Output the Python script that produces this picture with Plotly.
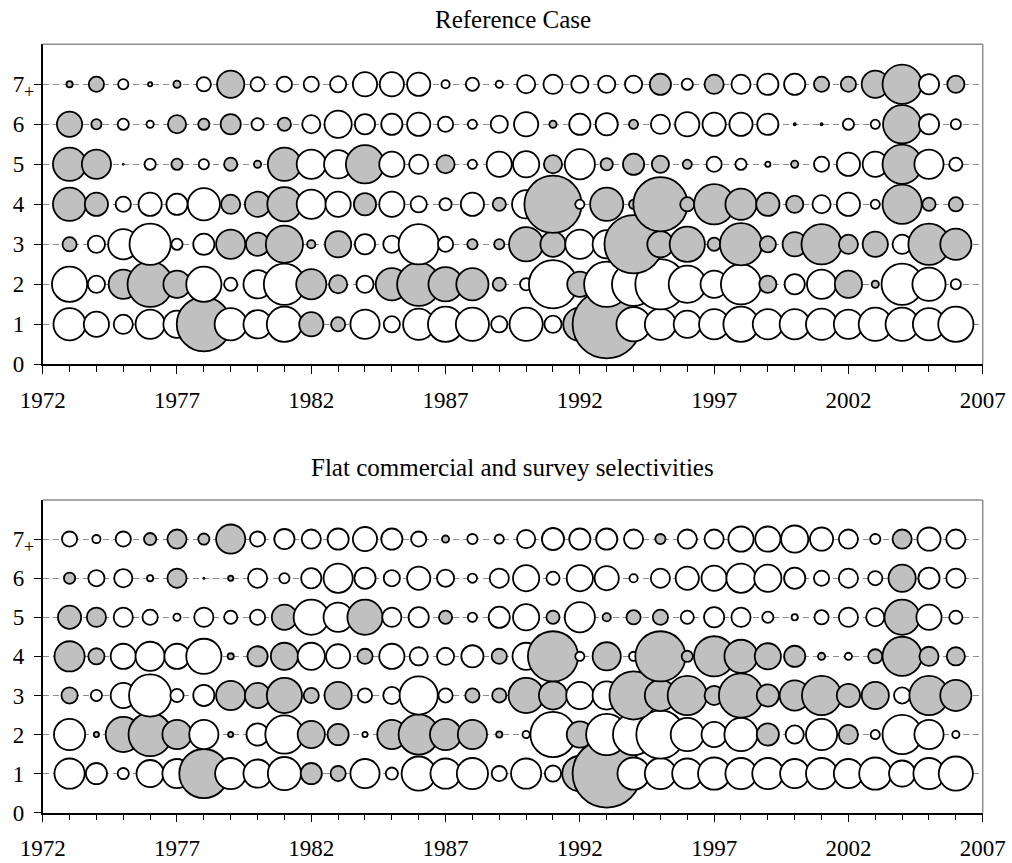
import plotly.graph_objects as go

# ---- data -------------------------------------------------------------
years = list(range(1973, 2007))
ages = [1, 2, 3, 4, 5, 6, 7]
x_tick_years = [1972, 1977, 1982, 1987, 1992, 1997, 2002, 2007]
y_tick_vals = [0, 1, 2, 3, 4, 5, 6, 7]
y_tick_text = ["0", "1", "2", "3", "4", "5", "6", "7"]
panel_titles = ["Reference Case", "Flat commercial and survey selectivities"]

# Residuals by age, 1973-2006 (positive = open bubble, negative = shaded)
ref_age1 = [3.4, 2.7, 2.1, 3.1, 2.9, -5.6, 3.4, 3.0, 3.7, -2.6,
            -1.6, 3.1, 1.8, 3.3, 3.7, 3.5, 1.8, 3.5, 1.9, -3.5,
            -7.0, 3.6, 3.3, 2.9, 3.2, 3.7, 3.2, 3.2, 3.3, 3.1,
            3.5, 3.5, 3.4, 3.7]
ref_age2 = [3.7, 1.9, -3.1, -4.7, -2.9, 3.7, 1.5, 3.0, 4.3, -3.2,
            -2.0, 1.9, -3.4, -4.5, -3.6, -3.4, -1.5, 1.4, 5.0, -2.7,
            4.7, 4.5, 5.2, 3.9, 2.9, 4.2, -1.9, 2.2, 3.1, -2.9,
            -0.9, 4.3, 3.5, 1.2]
ref_age3 = [-1.6, 1.9, 3.2, 4.3, 1.3, 2.3, -3.1, -2.5, -3.9, -1.0,
            -2.8, 2.2, 1.9, 4.2, 1.7, -1.2, -1.2, -3.6, -2.7, 3.1,
            3.0, -6.0, -2.8, -3.7, -1.5, -4.4, -1.8, -2.6, -4.2, -2.1,
            -2.7, 2.1, -4.3, -3.3]
ref_age4 = [-3.5, -2.5, 1.7, 2.5, 2.3, 3.4, -2.1, -2.7, -3.6, 3.1,
            2.7, -2.4, 2.7, 1.8, 1.4, 2.5, -1.5, 3.0, -5.9, 1.1,
            -3.5, -1.1, -5.6, -1.6, -4.2, -3.3, -2.5, -1.9, 2.0, 2.5,
            1.1, -4.1, -1.5, -1.6]
ref_age5 = [-3.5, -3.1, -0.2, 1.3, -1.3, 1.2, -1.5, -0.9, -3.5, 3.1,
            3.0, -4.0, 2.7, 2.1, -2.0, 1.1, 2.7, 2.8, -2.0, 3.2,
            -1.4, -2.3, -1.9, -1.1, 1.7, 1.3, 0.7, -0.9, 1.7, 2.5,
            2.7, -4.1, 3.1, 1.5]
ref_age6 = [-2.7, -1.2, 1.3, 0.9, -2.0, -1.3, -2.2, 1.4, -1.5, 2.0,
            2.9, 2.2, 2.3, 2.5, 1.7, 1.1, 1.9, 2.6, -0.9, 2.3,
            2.4, -1.1, 2.1, 2.6, 2.5, 2.5, 2.3, -0.4, -0.4, 1.3,
            1.1, -4.0, 2.2, 1.2]
ref_age7 = [-0.8, -1.7, 1.2, 0.6, -0.9, 1.6, -2.9, 1.6, 1.7, 1.7,
            1.8, 2.6, 2.6, 2.5, 1.0, 1.5, 0.9, 2.0, 2.1, 1.9,
            1.9, 1.9, -2.3, 1.3, -2.1, 2.1, 2.3, 2.3, -1.7, -1.7,
            -2.9, -4.1, 2.2, -1.9]

flat_age1 = [3.2, 2.3, 1.3, 2.9, 3.1, -5.1, 3.3, 3.0, 3.5, -2.3,
             -1.7, 3.1, 1.4, 3.6, 3.2, 3.3, 1.7, 3.2, 1.8, -3.7,
             -7.0, 3.4, 3.3, 3.2, 3.4, 3.3, 3.3, 3.1, 3.3, 3.1,
             3.4, 2.8, 3.3, 3.6]
flat_age2 = [3.3, -0.7, -3.7, -4.5, -3.1, 3.1, -0.7, 2.4, 4.0, -2.9,
             -2.3, 0.7, -3.1, -4.2, -3.3, -3.1, -0.8, 0.9, 4.7, -2.8,
             4.3, 4.3, 5.0, 3.5, 2.7, 3.5, -2.4, 2.0, 3.3, -2.1,
             1.1, 4.1, 3.1, 0.9]
flat_age3 = [-1.8, 1.3, 2.7, 4.4, 1.5, 2.3, -3.1, -2.7, -3.7, -1.7,
             -2.9, 1.6, 1.9, 4.0, 1.6, -1.6, -1.6, -3.7, -3.0, 2.9,
             3.0, -5.0, -3.3, -4.1, -2.1, -4.6, -2.4, -3.2, -4.1, -2.5,
             -2.9, 1.8, -4.1, -3.3]
flat_age4 = [-3.2, -1.8, 2.7, 3.1, 2.7, 3.7, -0.8, -2.2, -2.9, 2.9,
             2.6, -1.7, 2.7, 2.0, 1.9, 2.4, -1.7, 2.9, -5.2, 1.1,
             -3.0, 1.1, -5.2, -1.3, -4.2, -3.5, -2.8, -2.3, -0.9, 0.9,
             -1.6, -4.1, -2.1, -2.0]
flat_age5 = [-2.5, -2.1, 2.1, 1.7, 0.9, 2.1, 1.5, 1.7, -2.7, 3.7,
             3.1, -3.7, 2.1, 2.2, -1.5, 1.1, 2.3, 2.8, -1.5, 3.2,
             -1.0, -1.6, -1.7, 1.5, 2.2, 2.1, 1.3, 0.8, 1.6, 2.1,
             2.0, -3.7, 2.7, 1.5]
flat_age6 = [-1.3, 1.8, 2.0, 0.8, -2.1, -0.3, -0.7, 2.1, 1.2, 2.2,
             3.1, 2.3, 1.8, 2.5, 1.9, 1.1, 2.1, 2.8, 1.5, 2.8,
             2.6, 1.0, 2.1, 2.5, 2.7, 3.1, 2.9, 2.3, 1.7, 2.1,
             1.6, -2.9, 2.3, 2.1]
flat_age7 = [1.7, 1.0, 1.7, -1.4, -2.1, -1.3, -3.1, 1.7, 2.2, 2.1,
             2.3, 2.6, 2.3, 1.7, -0.9, 1.2, 1.1, 2.0, 2.4, 2.3,
             2.3, 2.1, -1.2, 2.1, 2.1, 2.7, 2.7, 2.9, 2.5, 2.1,
             1.2, -2.1, 2.5, 2.1]

ref_resid = [ref_age1, ref_age2, ref_age3, ref_age4, ref_age5, ref_age6, ref_age7]
flat_resid = [flat_age1, flat_age2, flat_age3, flat_age4, flat_age5, flat_age6, flat_age7]

# ---- styling ----------------------------------------------------------
PX_PER_UNIT = 10.0       # bubble diameter (px) per unit of |residual|
OUTLINE = 1.8
POS_FILL = "#ffffff"
NEG_FILL = "#c0c0c0"
SERIF = "Liberation Serif, Times New Roman, serif"
W, H = 1012, 863

x_dom = [42.7 / W, 982.7 / W]
y_doms = [[1 - 364.3 / H, 1 - 44.3 / H], [1 - 812.7 / H, 1 - 500.0 / H]]
title_y = [1 - 20.0 / H, 1 - 467.0 / H]

fig = go.Figure()

panels = [ref_resid, flat_resid]
for p, resid in enumerate(panels):
    xa = "x" if p == 0 else "x2"
    ya = "y" if p == 0 else "y2"
    for age, vals in zip(ages, resid):
        sizes = [max(abs(v) * PX_PER_UNIT - OUTLINE, 1.0) for v in vals]
        fills = [POS_FILL if v > 0 else NEG_FILL for v in vals]
        fig.add_trace(go.Scatter(
            x=years, y=[age] * len(years), mode="markers",
            xaxis=xa, yaxis=ya, showlegend=False, hoverinfo="skip",
            marker=dict(size=sizes, sizemode="diameter", color=fills,
                        opacity=1, line=dict(color="black", width=OUTLINE)),
        ))

tick_font = dict(family=SERIF, size=23, color="black")


def x_axis(anchor, dom):
    return dict(
        domain=dom, anchor=anchor, range=[1972, 2007], automargin=False,
        tickmode="array", tickvals=x_tick_years,
        ticks="outside", ticklen=8, tickwidth=1, tickcolor="black",
        minor=dict(tickmode="array", tickvals=list(range(1972, 2008)),
                   ticks="outside", ticklen=6, tickwidth=1, tickcolor="black",
                   showgrid=False),
        showline=True, linecolor="black", linewidth=1.5,
        showgrid=False, zeroline=False, tickfont=tick_font,
        ticklabelstandoff=6, fixedrange=True,
    )


def y_axis(anchor, dom):
    return dict(
        domain=dom, anchor=anchor, range=[0, 8], automargin=False,
        tickmode="array", tickvals=y_tick_vals, ticktext=y_tick_text,
        ticks="outside", ticklen=7, tickwidth=1, tickcolor="black",
        showline=True, linecolor="black", linewidth=1.5,
        showgrid=True, gridcolor="#8c8c8c", gridwidth=1, griddash="6px,4px",
        zeroline=False, tickfont=tick_font, ticklabelstandoff=5,
        fixedrange=True,
    )


def y_inner(over, anchor):
    return dict(
        overlaying=over, anchor=anchor, side="left", range=[0, 8],
        automargin=False,
        tickmode="array", tickvals=y_tick_vals,
        ticks="inside", ticklen=7, tickwidth=1, tickcolor="black",
        showticklabels=False, showgrid=False, zeroline=False,
        showline=False, fixedrange=True,
    )


fig.update_layout(
    width=W, height=H,
    margin=dict(l=0, r=0, t=0, b=0, autoexpand=False),
    paper_bgcolor="white", plot_bgcolor="white",
    xaxis=x_axis("y", x_dom),
    yaxis=y_axis("x", y_doms[0]),
    xaxis2=x_axis("y2", x_dom),
    yaxis2=y_axis("x2", y_doms[1]),
    yaxis3=y_inner("y", "x"),
    yaxis4=y_inner("y2", "x2"),
)

# Grey top/right frame
shapes = []
for xr, yr in [("x domain", "y domain"), ("x2 domain", "y2 domain")]:
    shapes.append(dict(type="line", xref=xr, yref=yr, x0=0, x1=1, y0=1, y1=1,
                       line=dict(color="#8c8c8c", width=1.5)))
    shapes.append(dict(type="line", xref=xr, yref=yr, x0=1, x1=1, y0=0, y1=1,
                       line=dict(color="#8c8c8c", width=1.5)))
fig.update_layout(shapes=shapes)

annotations = []
for t, ty in zip(panel_titles, title_y):
    annotations.append(dict(
        text=t, xref="paper", yref="paper",
        x=(x_dom[0] + x_dom[1]) / 2, y=ty, xanchor="center", yanchor="middle",
        showarrow=False, font=dict(family=SERIF, size=25, color="black"),
    ))
# "+" subscript on the oldest (plus-group) age label
for yr in ["y", "y2"]:
    annotations.append(dict(
        text="+", xref="paper", yref=yr, x=28.5 / W, y=7,
        xanchor="center", yanchor="middle", yshift=-8, showarrow=False,
        font=dict(family=SERIF, size=18, color="black"),
    ))
fig.update_layout(annotations=annotations)

fig.write_html("out.html")
